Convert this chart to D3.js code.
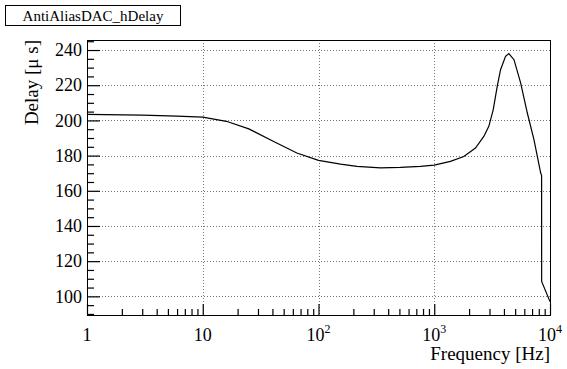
<!DOCTYPE html>
<html>
<head>
<meta charset="utf-8">
<title>AntiAliasDAC_hDelay</title>
<style>
  body { margin: 0; background: #fff; }
  svg { display: block; }
</style>
</head>
<body>
<script src="https://cdn.jsdelivr.net/npm/d3@7"></script>
<script>
// data
var freq  = [1, 3, 6, 10, 16, 25, 41, 65, 100, 155, 215, 343, 510, 760, 1000, 1380, 1800, 2270,
             2680, 2960, 3230, 3500, 3740, 4130, 4410, 4885, 5575, 6370, 7275, 8310, 8460, 8470, 10000];
var delay = [203.4, 203.0, 202.4, 201.9, 199.5, 195.2, 188.0, 181.5, 177.3, 175.2, 173.9, 173.0,
             173.3, 173.9, 174.6, 176.7, 179.5, 184.3, 190.9, 196.6, 206.0, 219.3, 228.8, 236.4,
             238.0, 234.5, 221.3, 204.2, 189.0, 170.1, 168.8, 108.5, 97.0];
var xMajor = [1, 10, 100, 1000, 10000];
var xLabels = [["1", ""], ["10", ""], ["10", "2"], ["10", "3"], ["10", "4"]];
var yMajor = [100, 120, 140, 160, 180, 200, 220, 240];
var yMinor = [90, 95, 105, 110, 115, 125, 130, 135, 145, 150, 155, 165, 170, 175, 185, 190, 195, 205, 210, 215, 225, 230, 235, 245];
var title = "AntiAliasDAC_hDelay";
var xTitle = "Frequency [Hz]";
var yTitle = "Delay [\u03bc s]";

var FONT = "'Liberation Serif', Tinos, 'Times New Roman', Times, 'DejaVu Serif', serif";
var W = 567, H = 369;
var L = 87, R = 550, T = 40, B = 315;

var svg = d3.select("body").append("svg").attr("width", W).attr("height", H)
  .style("font-family", FONT);

var x = d3.scaleLog().domain([1, 10000]).range([L, R]);
var y = d3.scaleLinear().domain([89.4, 245.7]).range([B, T]);

// minor x ticks: 2..9 in each decade
var xMinor = [];
for (var d = 1; d < 10000; d *= 10) {
  for (var k = 2; k <= 9; k++) xMinor.push(d * k);
}

// grid
var grid = svg.append("g").attr("stroke", "#777").attr("stroke-dasharray", "1,2").attr("stroke-width", 1);
grid.selectAll(".gx").data(xMajor.slice(1, 4)).enter().append("line")
  .attr("x1", function(d){ return Math.round(x(d)) + 0.5; })
  .attr("x2", function(d){ return Math.round(x(d)) + 0.5; })
  .attr("y1", T).attr("y2", B);
grid.selectAll(".gy").data(yMajor).enter().append("line")
  .attr("x1", L).attr("x2", R)
  .attr("y1", function(d){ return Math.round(y(d)) + 0.5; })
  .attr("y2", function(d){ return Math.round(y(d)) + 0.5; });

// curve
var line = d3.line()
  .x(function(d, i){ return x(freq[i]); })
  .y(function(d){ return y(d); });
svg.append("path").datum(delay)
  .attr("d", line)
  .attr("fill", "none").attr("stroke", "#000").attr("stroke-width", 1.2);

// axes (ticks inside the frame)
var yAxis = svg.append("g").attr("transform", "translate(" + L + ",0)")
  .call(d3.axisLeft(y).tickValues(yMajor).tickSize(-13).tickPadding(5).tickFormat(d3.format("d")));
svg.append("g").attr("transform", "translate(" + L + ",0)")
  .call(d3.axisLeft(y).tickValues(yMinor).tickSize(-7).tickFormat(""));
svg.append("g").attr("transform", "translate(0," + B + ")")
  .call(d3.axisBottom(x).tickValues(xMajor).tickSize(-11).tickFormat(""));
svg.append("g").attr("transform", "translate(0," + B + ")")
  .call(d3.axisBottom(x).tickValues(xMinor).tickSize(-6).tickFormat(""));

svg.selectAll(".domain").remove();
svg.selectAll("g").attr("font-family", null);
svg.selectAll(".tick line").attr("stroke", "#000").attr("stroke-width", 1.2);
yAxis.selectAll("text").attr("font-size", 18).style("font-family", FONT);

// x labels with superscripts
var xl = svg.append("g").selectAll("text").data(xMajor).enter().append("text")
  .attr("x", function(d){ return x(d); })
  .attr("y", 341)
  .attr("font-size", 18)
  .style("font-family", FONT)
  .attr("text-anchor", "middle");
xl.append("tspan").text(function(d, i){ return xLabels[i][0]; });
xl.append("tspan").attr("dy", -8).attr("font-size", 12).text(function(d, i){ return xLabels[i][1]; });

// frame
svg.append("rect").attr("x", L + 0.5).attr("y", T + 0.5)
  .attr("width", R - L).attr("height", B - T)
  .attr("fill", "none").attr("stroke", "#000").attr("stroke-width", 1);

// axis titles
svg.append("text").attr("x", R).attr("y", 360).attr("text-anchor", "end")
  .attr("font-size", 19).style("font-family", FONT).text(xTitle);
svg.append("text").attr("transform", "translate(38," + T + ") rotate(-90)")
  .attr("text-anchor", "end").attr("font-size", 19).style("font-family", FONT).text(yTitle);

// title box
svg.append("rect").attr("x", 5.5).attr("y", 5.5).attr("width", 175).attr("height", 20)
  .attr("fill", "#fff").attr("stroke", "#000");
svg.append("text").attr("x", 93).attr("y", 20.5).attr("text-anchor", "middle")
  .attr("font-size", 15).style("font-family", FONT).text(title);
</script>
</body>
</html>
